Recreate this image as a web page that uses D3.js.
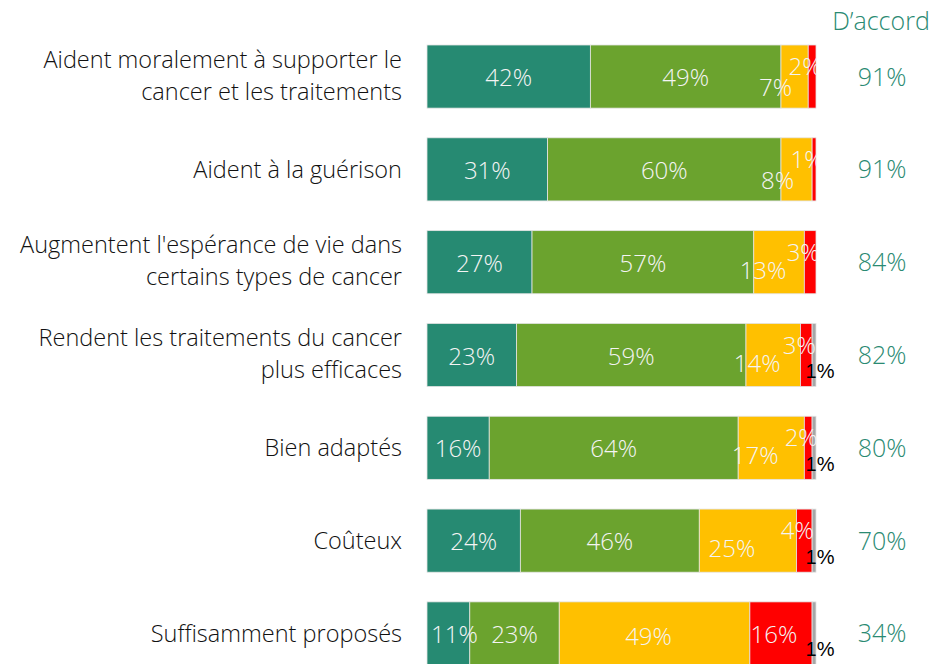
<!DOCTYPE html>
<html>
<head>
<meta charset="utf-8">
<script src="https://cdn.jsdelivr.net/npm/d3@7"></script>
<style>
  body { margin: 0; background: #fff; }
  svg { display: block; font-family: 'Open Sans', sans-serif; }
</style>
</head>
<body>
<div id="chart"></div>
<script>
// data
const categories = [
  ['Aident moralement à supporter le', 'cancer et les traitements'],
  ['Aident à la guérison'],
  ["Augmentent l'espérance de vie dans", 'certains types de cancer'],
  ['Rendent les traitements du cancer', 'plus efficaces'],
  ['Bien adaptés'],
  ['Coûteux'],
  ['Suffisamment proposés']
]
const tout_a_fait = [42, 31, 27, 23, 16, 24, 11]
const plutot_oui = [49, 60, 57, 59, 64, 46, 23]
const plutot_non = [7, 8, 13, 14, 17, 25, 49]
const pas_du_tout = [2, 1, 3, 3, 2, 4, 16]
const nsp = [0, 0, 0, 1, 1, 1, 1]
const daccord = [91, 91, 84, 82, 80, 70, 34]

const colors = ['#268a72', '#6ba32e', '#ffc000', '#ff0000', '#a6a6a6']
const teal = '#2a8a72'

const W = 935, H = 664
const svg = d3.select('#chart').append('svg').attr('width', W).attr('height', H)

const rows = categories.map((c, i) => {
  const vals = [tout_a_fait[i], plutot_oui[i], plutot_non[i], pas_du_tout[i], nsp[i]]
  let acc = 0
  const segs = vals.map((v, k) => {
    const s = {row: i, k: k, v: v, x0: acc, x1: acc + v}
    acc += v
    return s
  })
  return {i: i, label: c, segs: segs}
})

const x = d3.scaleLinear().domain([0, 100]).range([427, 816])
const y = d3.scaleBand().domain(d3.range(categories.length)).range([45, 665]).paddingInner(0.32).paddingOuter(0)
const bh = y.bandwidth()

svg.append('clipPath').attr('id', 'barclip')
  .append('rect').attr('x', 0).attr('y', 0).attr('width', x(100) + 1).attr('height', H)

const g = svg.selectAll('g.row').data(rows).enter().append('g').attr('class', 'row')

g.selectAll('rect.seg').data(d => d.segs.filter(s => s.v > 0)).enter().append('rect')
  .attr('class', 'seg')
  .attr('x', d => x(d.x0))
  .attr('y', d => y(d.row))
  .attr('width', d => x(d.x1) - x(d.x0))
  .attr('height', bh)
  .attr('fill', d => colors[d.k])
  .attr('stroke', '#e4e4e4')
  .attr('stroke-width', 0.8)

// labels in segments (excel style nudges for narrow segments)
function dx(s) {
  if (s.k == 2) return s.v < 10 ? -19 : s.v < 30 ? -16 : -6
  if (s.k == 3) return s.v < 10 ? -7 : -7
  if (s.k == 4) return 6
  if (s.k == 0 && s.v < 12) return 6
  return 0
}
function dy(s) {
  if (s.k == 2) return s.v < 10 ? 10 : s.v < 30 ? 7 : 2
  if (s.k == 3) return s.v < 10 ? -11 : 0
  if (s.k == 4) return 16
  return 0
}

g.selectAll('text.val').data(d => d.segs.filter(s => s.v > 0 && s.k < 4)).enter().append('text')
  .attr('class', 'val')
  .attr('clip-path', 'url(#barclip)')
  .attr('x', d => (x(d.x0) + x(d.x1)) / 2 + dx(d))
  .attr('y', d => y(d.row) + bh / 2 + dy(d))
  .attr('dy', '0.4em')
  .attr('text-anchor', 'middle')
  .attr('fill', '#f4f4f4')
  .attr('font-size', 24)
  .attr('font-weight', 300)
  .text(d => d.v + '%')

g.selectAll('text.nsp').data(d => d.segs.filter(s => s.v > 0 && s.k == 4)).enter().append('text')
  .attr('class', 'nsp')
  .attr('x', d => (x(d.x0) + x(d.x1)) / 2 + dx(d))
  .attr('y', d => y(d.row) + bh / 2 + dy(d))
  .attr('dy', '0.35em')
  .attr('text-anchor', 'middle')
  .attr('fill', '#000')
  .attr('font-family', 'Liberation Sans, Arial, sans-serif')
  .attr('font-size', 20)
  .text(d => d.v + '%')

// category labels
g.append('text')
  .attr('x', 402)
  .attr('y', d => y(d.i) + bh / 2 - (d.label.length - 1) * 17)
  .attr('text-anchor', 'end')
  .attr('fill', '#111')
  .attr('font-size', 23.5)
  .attr('font-weight', 300)
  .selectAll('tspan').data(d => d.label).enter().append('tspan')
  .attr('x', 402)
  .attr('dy', (d, j) => j == 0 ? '0.35em' : 32)
  .text(d => d)

// d'accord column
g.append('text')
  .attr('x', 882)
  .attr('y', d => y(d.i) + bh / 2)
  .attr('dy', '0.36em')
  .attr('text-anchor', 'middle')
  .attr('fill', teal)
  .attr('font-size', 25)
  .attr('font-weight', 300)
  .text(d => daccord[d.i] + '%')

svg.append('text')
  .attr('x', 881)
  .attr('y', 30)
  .attr('text-anchor', 'middle')
  .attr('fill', teal)
  .attr('font-size', 25)
  .attr('font-weight', 300)
  .text('D\u2019accord')
</script>
</body>
</html>
